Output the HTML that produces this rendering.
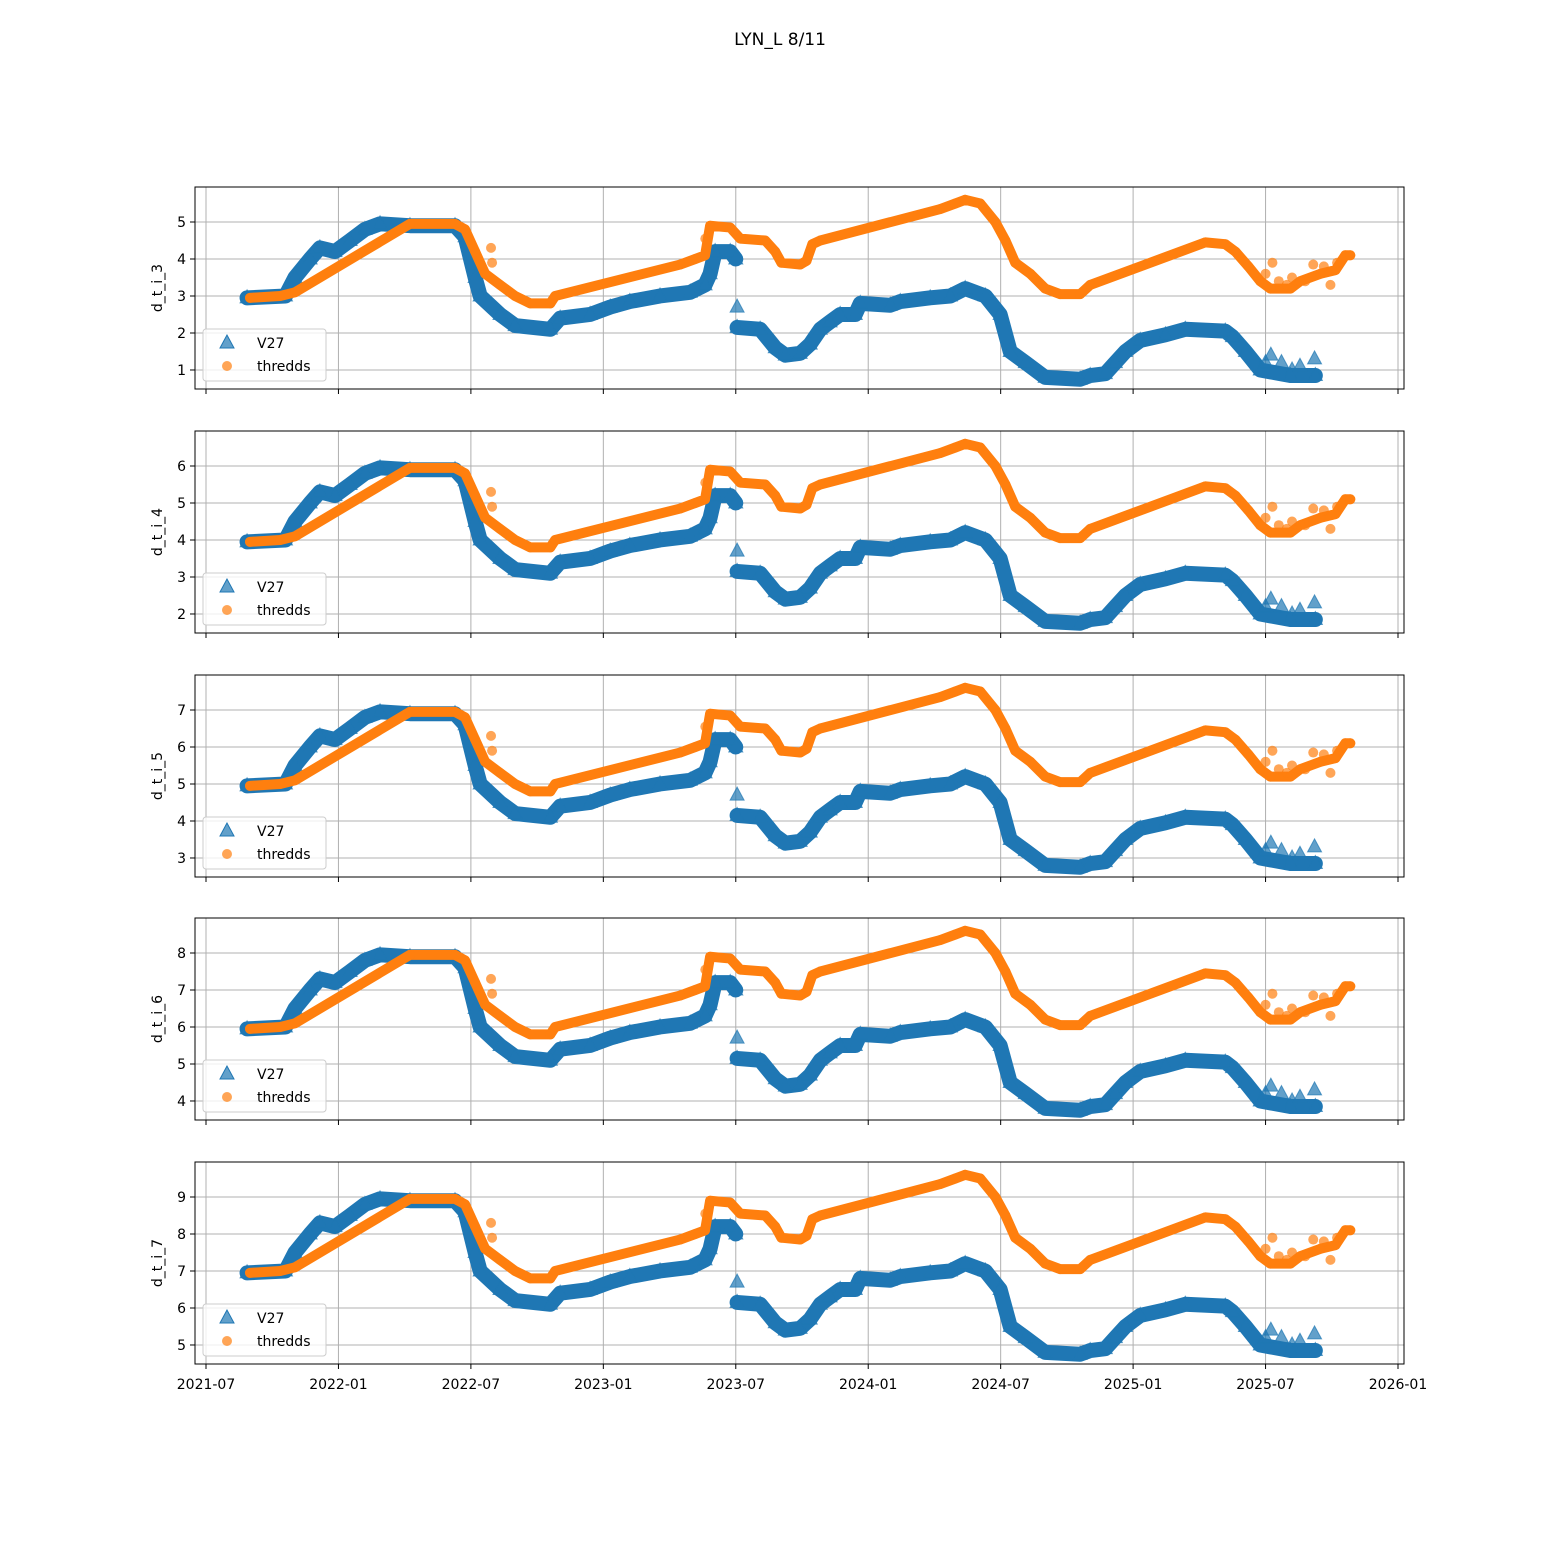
<!DOCTYPE html>
<html><head><meta charset="utf-8"><style>
body{margin:0;background:#fff;}
svg{display:block;font-family:"DejaVu Sans","Liberation Sans",sans-serif;}
</style></head><body>
<svg id="fig" width="1560" height="1560" viewBox="0 0 1560 1560">
<rect width="1560" height="1560" fill="#fff"/>
<text x="780" y="45" font-size="17" text-anchor="middle">LYN_L 8/11</text>
</svg>
<script>
// decimal-year time, values for panel d_t_i_3 (other panels offset by +1 each)
const panelNames = ["d_t_i_3","d_t_i_4","d_t_i_5","d_t_i_6","d_t_i_7"];
const panelOffsets = [0,1,2,3,4];
const xTickVals = [2021.5,2022.0,2022.5,2023.0,2023.5,2024.0,2024.5,2025.0,2025.5,2026.0];
const xTickLabels = ["2021-07","2022-01","2022-07","2023-01","2023-07","2024-01","2024-07","2025-01","2025-07","2026-01"];
const v27Seg1T = [2021.655,2021.80,2021.836,2021.893,2021.93,2021.987,2022.044,2022.10,2022.157,2022.27,2022.44,2022.478,2022.516,2022.535,2022.61,2022.667,2022.80,2022.837,2022.95,2023.026,2023.10,2023.214,2023.328,2023.384,2023.403,2023.422,2023.479,2023.50];
const v27Seg1V = [2.95,3.0,3.5,4.0,4.3,4.2,4.5,4.8,4.95,4.9,4.9,4.6,3.5,3.0,2.5,2.2,2.1,2.4,2.5,2.7,2.85,3.0,3.1,3.3,3.6,4.2,4.2,4.0];
const v27Seg2T = [2023.505,2023.592,2023.649,2023.687,2023.743,2023.781,2023.819,2023.856,2023.894,2023.951,2023.97,2024.083,2024.121,2024.234,2024.31,2024.366,2024.442,2024.498,2024.536,2024.593,2024.668,2024.80,2024.838,2024.895,2024.933,2024.971,2025.027,2025.122,2025.197,2025.348,2025.375,2025.424,2025.48,2025.594,2025.688];
const v27Seg2V = [2.15,2.1,1.6,1.4,1.45,1.7,2.1,2.3,2.5,2.5,2.8,2.75,2.85,2.95,3.0,3.2,3.0,2.5,1.5,1.2,0.8,0.75,0.85,0.9,1.2,1.5,1.8,1.95,2.1,2.05,1.9,1.5,1.0,0.85,0.85];
const v27ExtraT = [2023.505,2025.50,2025.52,2025.56,2025.60,2025.63,2025.685];
const v27ExtraV = [2.7,1.2,1.4,1.2,1.0,1.1,1.3];
const thrT = [2021.666,2021.78,2021.836,2022.27,2022.44,2022.478,2022.516,2022.554,2022.61,2022.667,2022.724,2022.80,2022.818,2023.29,2023.347,2023.384,2023.403,2023.479,2023.517,2023.611,2023.649,2023.672,2023.743,2023.767,2023.789,2023.819,2024.272,2024.329,2024.366,2024.423,2024.48,2024.518,2024.555,2024.612,2024.668,2024.725,2024.80,2024.838,2025.273,2025.348,2025.386,2025.435,2025.48,2025.518,2025.594,2025.631,2025.707,2025.764,2025.801,2025.82];
const thrV = [2.95,3.0,3.1,4.95,4.95,4.8,4.2,3.6,3.3,3.0,2.8,2.8,3.0,3.85,4.0,4.1,4.9,4.85,4.55,4.5,4.2,3.9,3.85,3.95,4.4,4.5,5.35,5.5,5.6,5.5,5.0,4.5,3.9,3.6,3.2,3.05,3.05,3.3,4.45,4.4,4.2,3.8,3.4,3.2,3.2,3.4,3.6,3.7,4.1,4.1];
const thrExtraT = [2022.576,2022.58,2023.385,2025.50,2025.526,2025.55,2025.58,2025.60,2025.65,2025.68,2025.72,2025.745,2025.77];
const thrExtraV = [4.3,3.9,4.55,3.6,3.9,3.4,3.3,3.5,3.4,3.85,3.8,3.3,3.9];

const NS="http://www.w3.org/2000/svg";
const svg=document.getElementById('fig');
const X0=195,X1=1404;
const xs=t=>206+(t-2021.5)*(1398-206)/4.5;
function mk(tag,attrs,parent){const e=document.createElementNS(NS,tag);for(const k in attrs)e.setAttribute(k,attrs[k]);(parent||svg).appendChild(e);return e;}
const tops=[187,431,675,918,1162];
panelNames.forEach((name,p)=>{
  const top=tops[p],bot=top+202,off=panelOffsets[p];
  const lo=0.486+off,hi=5.946+off;
  const ys=v=>bot-(v+off-lo)/(hi-lo)*(bot-top);
  const g=mk('g',{});
  
  
  const cp='clip'+p;
  const cl=mk('clipPath',{id:cp},g);mk('rect',{x:X0,y:top,width:X1-X0,height:bot-top},cl);
  xTickVals.forEach((t,i)=>{
    const x=xs(t);
    if(x>X0&&x<X1){const gl=mk('line',{x1:x,x2:x,y1:top,y2:bot,stroke:'#b0b0b0','stroke-width':1},g);}
    mk('line',{x1:x,x2:x,y1:bot,y2:bot+5,stroke:'#000','stroke-width':1},g);
    if(p===4){const tx=mk('text',{x:x,y:bot+25,'font-size':14,'text-anchor':'middle'},g);tx.textContent=xTickLabels[i];}
  });
  for(let v=1;v<=5;v++){
    const y=ys(v);
    const gl=mk('line',{x1:X0,x2:X1,y1:y,y2:y,stroke:'#b0b0b0','stroke-width':1},g);
    mk('line',{x1:X0-5,x2:X0,y1:y,y2:y,stroke:'#000'},g);
    const tx=mk('text',{x:X0-9,y:y+5,'font-size':14,'text-anchor':'end'},g);tx.textContent=v+off;
    
  }
  const yl=mk('text',{x:0,y:0,'font-size':14,'text-anchor':'middle',transform:`translate(162,${(top+bot)/2}) rotate(-90)`},g);
  yl.textContent=name;
  const dg=mk('g',{'clip-path':`url(#${cp})`},g);
  const line=(T,V,col,w,nm)=>{const l=mk('polyline',{points:T.map((t,i)=>xs(t)+','+ys(V[i])).join(' '),fill:'none',stroke:col,'stroke-width':w,'stroke-linejoin':'round','stroke-linecap':'round'},dg);};
  const tri=(t,v)=>{const x=xs(t),y=ys(v);const m=mk('polygon',{points:`${x},${y-8} ${x-7},${y+5} ${x+7},${y+5}`,fill:'#1f77b4','fill-opacity':0.7,stroke:'#1f77b4','stroke-opacity':0.7},dg);};
  const dot=(t,v)=>{const m=mk('circle',{cx:xs(t),cy:ys(v),r:5,fill:'#ff7f0e','fill-opacity':0.7},dg);};
  line(v27Seg1T,v27Seg1V,'#1f77b4',15,'v27-series');
  line(v27Seg2T,v27Seg2V,'#1f77b4',15,'v27-series');
  v27Seg1T.forEach((t,i)=>tri(t,v27Seg1V[i]));
  v27Seg2T.forEach((t,i)=>tri(t,v27Seg2V[i]));
  v27ExtraT.forEach((t,i)=>tri(t,v27ExtraV[i]));
  line(thrT,thrV,'#ff7f0e',10,'thredds-series');
  thrT.forEach((t,i)=>dot(t,thrV[i]));
  thrExtraT.forEach((t,i)=>dot(t,thrExtraV[i]));
  mk('rect',{x:X0,y:top,width:X1-X0,height:bot-top,fill:'none',stroke:'#000','stroke-width':1},g);
  const lg=mk('g',{},g);
  mk('rect',{x:203,y:top+142,width:123,height:52,rx:3,fill:'#fff','fill-opacity':0.8,stroke:'#ccc'},lg);
  mk('polygon',{points:`227,${top+148} 220,${top+161} 234,${top+161}`,fill:'#1f77b4','fill-opacity':0.7,stroke:'#1f77b4'},lg);
  const t1=mk('text',{x:257,y:top+161,'font-size':14},lg);t1.textContent='V27';
  mk('circle',{cx:227,cy:top+179,r:5,fill:'#ff7f0e','fill-opacity':0.7},lg);
  const t2=mk('text',{x:257,y:top+184,'font-size':14},lg);t2.textContent='thredds';
});
</script>
</body></html>
